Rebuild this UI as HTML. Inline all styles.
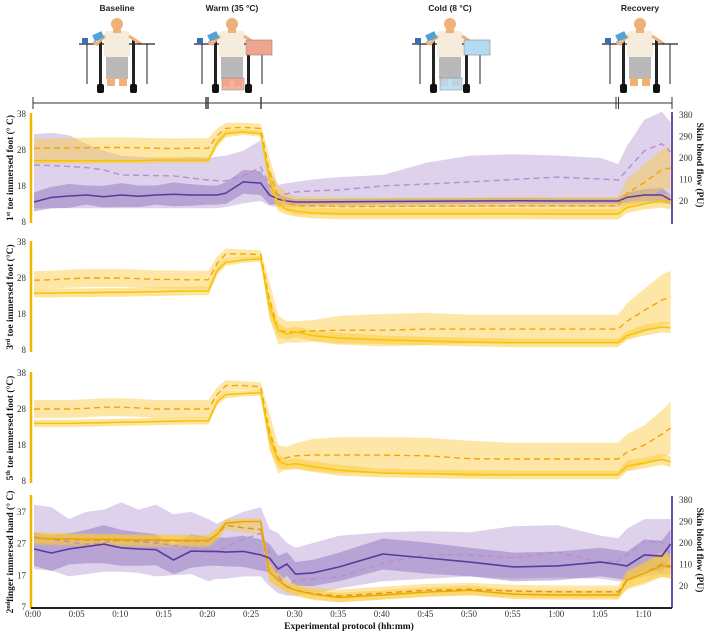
<!DOCTYPE html>
<html><head><meta charset="utf-8"><style>
html,body{margin:0;padding:0;background:#fff;}
svg{display:block;font-family:"Liberation Serif",serif;}
.tk{font-size:9px;fill:#333;}
.tt{font-size:9.5px;font-weight:bold;fill:#111;}
.lbl{font-family:"Liberation Sans",sans-serif;font-size:8.5px;font-weight:bold;fill:#222;}
</style></head><body>
<svg id="chart" width="708" height="632" viewBox="0 0 708 632">
<defs>
<g id="person">
  <line x1="-38" y1="44" x2="-12" y2="44" stroke="#222" stroke-width="1.2"/>
  <line x1="-30" y1="44" x2="-30" y2="84" stroke="#222" stroke-width="1"/>
  <rect x="-35" y="38" width="6" height="6" fill="#3b6fb0"/>
  <rect x="-18" y="40" width="3" height="50" fill="#222"/>
  <rect x="15" y="40" width="3" height="50" fill="#222"/>
  <rect x="-13" y="31" width="26" height="27" rx="4" fill="#f6ecdc"/>
  <circle cx="0" cy="24" r="6" fill="#f0b07a"/>
  <rect x="-4" y="29" width="8" height="4" fill="#f0b07a"/>
  <rect x="-11" y="57" width="22" height="22" fill="#b9b9b9"/>
  <rect x="-10" y="78" width="8" height="8" fill="#f0b07a"/>
  <rect x="2" y="78" width="8" height="8" fill="#f0b07a"/>
  <path d="M-12 36 L-20 44 L-24 42" stroke="#f0b07a" stroke-width="3" fill="none"/>
  <rect x="-24" y="33" width="10" height="7" fill="#4fa3d9" transform="rotate(-25 -19 36)"/>
  <rect x="-20" y="84" width="7" height="9" rx="2" fill="#111"/>
  <rect x="13" y="84" width="7" height="9" rx="2" fill="#111"/>
  <path d="M12 36 L24 44" stroke="#f0b07a" stroke-width="3"/>
  <line x1="12" y1="44" x2="38" y2="44" stroke="#222" stroke-width="1.2"/>
  <line x1="30" y1="44" x2="30" y2="84" stroke="#222" stroke-width="1"/>
</g>
</defs>

<g>
  <text class="lbl" x="117" y="11" text-anchor="middle">Baseline</text>
  <use href="#person" x="117" y="0"/>
  <text class="lbl" x="232" y="11" text-anchor="middle">Warm (35 °C)</text>
  <use href="#person" x="232" y="0"/>
  <rect x="246" y="40" width="26" height="15" fill="#f2a58e" stroke="#888" stroke-width="0.6"/>
  <rect x="222" y="78" width="22" height="12" fill="#f2a58e" opacity="0.85" stroke="#888" stroke-width="0.6"/>
  <text class="lbl" x="450" y="11" text-anchor="middle">Cold (8 °C)</text>
  <use href="#person" x="450" y="0"/>
  <rect x="464" y="40" width="26" height="15" fill="#b5dbf2" stroke="#888" stroke-width="0.6"/>
  <rect x="440" y="78" width="22" height="12" fill="#b5dbf2" opacity="0.85" stroke="#888" stroke-width="0.6"/>
  <text class="lbl" x="640" y="11" text-anchor="middle">Recovery</text>
  <use href="#person" x="640" y="0"/>
</g>

<g stroke="#333" stroke-width="1">
  <line x1="33" y1="103" x2="672" y2="103"/>
  <line x1="33" y1="97" x2="33" y2="109"/>
  <line x1="672" y1="97" x2="672" y2="109"/>
  <line x1="206" y1="97" x2="206" y2="109" stroke-width="1.4"/>
  <line x1="208" y1="97" x2="208" y2="109" stroke-width="1.4"/>
  <line x1="261" y1="97" x2="261" y2="109" stroke-width="1.4"/>
  <line x1="616" y1="97" x2="616" y2="109"/>
  <line x1="618.5" y1="97" x2="618.5" y2="109"/>
</g>

<g id="plots"></g>
</svg>
<script>
const times = [0,2,4,6,8,10,12,14,16,18,20,21,22,24,26,27,28,29,30,32,35,40,45,50,55,60,65,67,68,70,72,73];
const xTickLabels = ["0:00","0:05","0:10","0:15","0:20","0:25","0:30","0:35","0:40","0:45","0:50","0:55","1:00","1:05","1:10"];
const xTickMinutes = [0,5,10,15,20,25,30,35,40,45,50,55,60,65,70];
const tempTicksFoot = [38,28,18,8];
const tempTicksHand = [37,27,17,7];
const flowTicks = [380,290,200,110,20];

// Panel 1: 1st toe
const toe1Solid = [25,25,25,25,25,25,25,25.2,25.2,25.2,25.2,30,32.5,33,32.5,20,13,11.5,11,10.5,10.3,10.3,10.3,10.3,10.3,10.2,10.2,10.2,12,13,14,13.5];
const toe1SolidSd = [0.8,0.8,0.8,0.8,0.8,0.8,0.8,0.8,0.8,0.8,0.8,1.2,1,0.8,0.8,3,2,1.5,1.5,1.5,1.5,1.5,1.5,1.5,1.5,1.5,1.5,1.5,1.5,1.5,2,2];
const toe1Dash = [28.5,28.5,28.6,28.6,28.7,28.7,28.6,28.5,28.4,28.5,28.5,32,34,34.3,34,22,15,13.5,12.5,12.5,12.3,12.3,12.4,12.4,12.5,12.5,12.5,12.5,16,19,22.5,23];
const toe1DashSd = [2.8,2.8,2.8,2.8,2.8,2.8,2.8,2.8,2.8,2.8,2.8,2,1.5,1.3,1.3,4,3,2.5,2.5,2.5,2.5,2.5,2.5,2.5,2.5,2.5,2.5,2.5,4,5,5.5,6];
const flow1Solid = [16,35,41,45,38,45,40,45,48,45,45,45,53,100,95,45,28,20,16,16,17,18,19,20,21,20,20,20,35,45,45,24];
const flow1SolidSd = [40,45,50,40,45,50,45,40,50,45,40,40,45,50,50,40,20,15,12,12,12,12,12,12,12,12,12,12,20,25,30,20];
const flow1Dash = [171,168,165,160,150,129,128,126,125,116,108,105,104,125,162,87,45,50,58,62,66,83,91,100,110,120,112,108,150,230,260,225];
const flow1DashHi = [300,305,295,260,230,210,205,200,200,205,200,205,210,230,275,150,87,95,100,110,120,129,180,210,216,210,200,175,250,360,393,350];
const flow1DashLo = [-10,-10,-10,-10,-10,-10,-10,-10,-10,-10,-10,-10,-5,10,20,0,-5,-5,-5,-5,-5,-5,-5,-5,-5,-5,-5,-5,5,10,10,10];

// Panel 2: 3rd toe
const toe3Solid = [23.8,23.8,23.9,23.9,24,24,24.1,24.2,24.3,24.4,24.4,30,32.4,33,33.3,20,13.5,12.4,13,12,11.3,10.8,10.5,10.2,10,10,10,10,12,13.5,14.4,14.2];
const toe3SolidSd = [1.2,1.2,1.2,1.2,1.2,1.2,1.2,1.2,1.2,1.2,1.2,1.2,1,0.8,0.8,3,2,1.5,1.5,1.5,1.5,1.2,1.2,1.2,1.2,1.2,1.2,1.2,1.2,1.5,1.5,1.5];
const toe3Dash = [27.4,27.5,27.8,28,28,28,27.8,27.6,27.6,27.5,27.5,32,34.7,34.7,34.5,22,13.5,13,13,13.3,13.5,13.5,13.8,13.8,13.8,13.8,13.8,13.8,16,19,21.9,22.7];
const toe3DashSd = [2.5,2.5,2.5,2.5,2.5,2.5,2.5,2.5,2.5,2.5,2.5,2,1.5,1.2,1.2,5,4,3,3,3,4,4.5,4.5,4,4,4,4,4,5,6,7,7.3];

// Panel 3: 5th toe
const toe5Solid = [24,24,24,24.1,24.2,24.3,24.4,24.5,24.6,24.7,24.7,30,32,32.3,32.5,20,13.5,12.5,12.8,12,11,10.2,10,9.8,9.7,9.7,9.7,9.7,12.2,13,14,13.3];
const toe5SolidSd = [1,1,1,1,1,1,1,1,1,1,1,1,1,0.8,0.8,3,2,1.5,1.5,1.5,1.5,1.2,1.2,1.2,1.2,1.2,1.2,1.2,1.5,1.5,1.5,1.5];
const toe5Dash = [28,28,28,28.2,28.5,28.5,28.3,28,28,28,28,32,34.5,34.5,34.2,22,14,14.5,15,15.2,15.2,15.2,15,14.2,14.1,14.1,14.1,14.1,16,18,21,22.7];
const toe5DashSd = [2.5,2.5,2.5,2.5,2.5,2.5,2.5,2.5,2.5,2.5,2.5,2,1.5,1.2,1.2,5,4,3,3.5,4.5,5,5,5,5,4.5,4.5,4.5,4.5,5,5.5,6.5,7.3];

// Panel 4: 2nd finger
const fingerSolid = [28.7,28.6,28.5,28.4,28.4,28.3,28.2,28.2,28.1,28,28,30,33.5,34,34,18,15.5,13.3,12.3,11,10,10.8,11.7,12.3,11,10.8,10.8,10.8,15.5,17.7,20,19.5];
const fingerSolidSd = [1.5,1.5,1.5,1.5,1.5,1.5,1.5,1.5,1.5,1.5,1.5,1.5,1.2,1,1,3,2,1.5,1.5,1.5,1.5,1.5,1.5,1.5,1.5,1.5,1.5,1.5,2.5,3,3.5,3.5];
const fingerDash = [28.7,28.5,28.3,28.2,28.1,28,28,27.9,27.9,27.8,27.8,30,32.8,32,31.5,18,15.5,13.5,12.3,11.2,10.5,11.4,12.3,12.6,12,11.8,11.8,11.8,15.5,17.7,20.5,20];
const fingerDashSd = [2,2,2,2,2,2,2,2,2,2,2,2,1.5,1.5,1.5,3,2.5,2,2,2,2,2,2,2,2,2,2,2,3,3.5,4,4];
const flow4Solid = [175,158,175,185,195,180,175,172,129,166,165,165,162,165,150,137,91,112,70,75,100,154,137,120,100,104,120,110,104,150,145,196];
const flow4SolidSd = [70,75,65,70,80,75,70,65,60,70,60,60,60,65,65,60,55,50,50,55,60,65,65,60,60,60,60,60,60,65,65,60];
const flow4Dash = [225,215,205,195,200,215,205,200,190,180,175,158,185,215,240,160,60,15,45,50,58,116,150,150,137,162,120,125,150,204,204,150];
const flow4DashHi = [360,350,300,330,340,370,340,360,320,330,300,280,300,330,350,260,240,200,180,200,230,245,250,245,270,275,230,220,260,300,300,300];
const flow4DashLo = [90,85,60,70,80,80,75,60,65,70,40,50,50,60,60,20,-10,-20,-20,-10,10,40,50,60,50,55,50,40,40,60,70,70];

const NS = "http://www.w3.org/2000/svg";
const plots = document.getElementById('plots');
const xScale = t => 34 + 8.72 * t;
function lin(d0, d1, r0, r1){ return v => r0 + (v - d0) * (r1 - r0) / (d1 - d0); }
function mk(tag, attrs, parent){ const e = document.createElementNS(NS, tag); for (const k in attrs) e.setAttribute(k, attrs[k]); (parent||plots).appendChild(e); return e; }
function linePath(vals, y){ return vals.map((v,i)=>(i?'L':'M')+xScale(times[i]).toFixed(1)+' '+y(v).toFixed(1)).join(''); }
function bandPath(lo, hi, y){
  let d = hi.map((v,i)=>(i?'L':'M')+xScale(times[i]).toFixed(1)+' '+y(v).toFixed(1)).join('');
  for (let i = lo.length-1; i >= 0; i--) d += 'L'+xScale(times[i]).toFixed(1)+' '+y(lo[i]).toFixed(1);
  return d + 'Z';
}
function band(mean, sd, y, fill, op, name){
  const lo = mean.map((m,i)=>m - sd[i]); const hi = mean.map((m,i)=>m + sd[i]);
  const p = mk('path', {d: bandPath(lo, hi, y), fill: fill, opacity: op});
  
  
}
function bandHL(lo, hi, y, fill, op, name){
  const p = mk('path', {d: bandPath(lo, hi, y), fill: fill, opacity: op});
  
  
}
function line(vals, y, color, dash, w, name){
  const a = {d: linePath(vals, y), fill: 'none', stroke: color, 'stroke-width': w, 'stroke-linejoin': 'round'};
  if (dash) a['stroke-dasharray'] = dash;
  const p = mk('path', a);
  
  
}
function leftAxis(y, ticks, top, bot, name){
  const l = mk('line', {x1: 31, x2: 31, y1: top, y2: bot, stroke: '#f5b400', 'stroke-width': 2.5});
  
  
  ticks.forEach(v => {
    const t = mk('text', {x: 26, y: y(v) + 3, 'text-anchor': 'end', class: 'tk'});
    t.textContent = v;
    
    
  });
}
function rightAxis(y, top, bot, name){
  const l = mk('line', {x1: 672, x2: 672, y1: top, y2: bot, stroke: '#6a4ea8', 'stroke-width': 2});
  
  
  flowTicks.forEach(v => {
    const t = mk('text', {x: 679, y: y(v) + 3, 'text-anchor': 'start', class: 'tk'});
    t.textContent = v;
    
    
  });
}
function yTitle(x, yc, rot, parts, name){
  const t = mk('text', {class: 'tt', 'text-anchor': 'middle', transform: 'translate(' + x + ',' + yc + ') rotate(' + rot + ')'});
  parts.forEach(p => {
    const s = mk('tspan', p.sup ? {'font-size': '6px', 'baseline-shift': 'super'} : {}, t);
    s.textContent = p.t;
  });
  
  
}

const YB = '#fcc93a', YL = '#f5c400', YD = '#f2a600';
const PL = '#bca3d8', PD = '#8a6cb8', PS = '#5a3b9c', PDL = '#b68ed2';

// Panel 1
const y1 = lin(38, 8, 114, 222);
const f1 = lin(20, 380, 201, 115);
bandHL(flow1DashLo, flow1DashHi, f1, PL, 0.5, 'toe1-flow-dashed-band');
band(flow1Solid, flow1SolidSd, f1, PD, 0.45, 'toe1-flow-solid-band');
band(toe1Dash, toe1DashSd, y1, YB, 0.45, 'toe1-temp-dashed-band');
band(toe1Solid, toe1SolidSd, y1, YB, 0.5, 'toe1-temp-solid-band');
line(flow1Dash, f1, PDL, '6 4', 1.4, 'toe1-flow-dashed-line');
line(flow1Solid, f1, PS, null, 1.5, 'toe1-flow-solid-line');
line(toe1Dash, y1, YD, '6 4', 1.4, 'toe1-temp-dashed-line');
line(toe1Solid, y1, YL, null, 1.5, 'toe1-temp-solid-line');
leftAxis(y1, tempTicksFoot, 113, 223, 'toe1-y-axis');
rightAxis(f1, 112, 224, 'toe1-flow-axis');
yTitle(13, 168, -90, [{t:'1'},{t:'st',sup:1},{t:' toe immersed foot (° C)'}], 'toe1-y-axis-title');
yTitle(697, 165, 90, [{t:'Skin blood flow (PU)'}], 'toe1-flow-axis-title');

// Panel 2
const y2 = lin(38, 8, 242, 350);
band(toe3Dash, toe3DashSd, y2, YB, 0.45, 'toe3-temp-dashed-band');
band(toe3Solid, toe3SolidSd, y2, YB, 0.5, 'toe3-temp-solid-band');
line(toe3Dash, y2, YD, '6 4', 1.4, 'toe3-temp-dashed-line');
line(toe3Solid, y2, YL, null, 1.5, 'toe3-temp-solid-line');
leftAxis(y2, tempTicksFoot, 241, 352, 'toe3-y-axis');
yTitle(13, 297, -90, [{t:'3'},{t:'rd',sup:1},{t:' toe immersed foot (°C)'}], 'toe3-y-axis-title');

// Panel 3
const y3 = lin(38, 8, 373, 481);
band(toe5Dash, toe5DashSd, y3, YB, 0.45, 'toe5-temp-dashed-band');
band(toe5Solid, toe5SolidSd, y3, YB, 0.5, 'toe5-temp-solid-band');
line(toe5Dash, y3, YD, '6 4', 1.4, 'toe5-temp-dashed-line');
line(toe5Solid, y3, YL, null, 1.5, 'toe5-temp-solid-line');
leftAxis(y3, tempTicksFoot, 372, 483, 'toe5-y-axis');
yTitle(13, 428, -90, [{t:'5'},{t:'th',sup:1},{t:' toe immersed foot (°C)'}], 'toe5-y-axis-title');

// Panel 4
const y4 = lin(37, 7, 512, 607);
const f4 = lin(20, 380, 586, 500);
bandHL(flow4DashLo, flow4DashHi, f4, PL, 0.5, 'finger-flow-dashed-band');
band(flow4Solid, flow4SolidSd, f4, PD, 0.45, 'finger-flow-solid-band');
band(fingerDash, fingerDashSd, y4, YB, 0.45, 'finger-temp-dashed-band');
band(fingerSolid, fingerSolidSd, y4, YB, 0.5, 'finger-temp-solid-band');
line(flow4Dash, f4, PDL, '6 4', 1.4, 'finger-flow-dashed-line');
line(fingerDash, y4, '#d9942a', '6 4', 1.4, 'finger-temp-dashed-line');
line(fingerSolid, y4, '#e8a800', null, 1.5, 'finger-temp-solid-line');
line(flow4Solid, f4, PS, null, 1.6, 'finger-flow-solid-line');
leftAxis(y4, tempTicksHand, 495, 608, 'finger-y-axis');
rightAxis(f4, 496, 608, 'finger-flow-axis');
yTitle(13, 552, -90, [{t:'2'},{t:'nd',sup:1},{t:'finger  immersed hand (° C)'}], 'finger-y-axis-title');
yTitle(697, 550, 90, [{t:'Skin blood flow (PU)'}], 'finger-flow-axis-title');

// X axis
const xa = mk('line', {x1: 31, x2: 672, y1: 608, y2: 608, stroke: '#222', 'stroke-width': 2});


xTickMinutes.forEach((m, i) => {
  const t = mk('text', {x: xScale(m) - 1, y: 617, 'text-anchor': 'middle', class: 'tk'});
  t.textContent = xTickLabels[i];
  
  
});
const xt = mk('text', {x: 349, y: 629, 'text-anchor': 'middle', class: 'tt'});
xt.textContent = 'Experimental protocol (hh:mm)';


</script>
</body></html>
